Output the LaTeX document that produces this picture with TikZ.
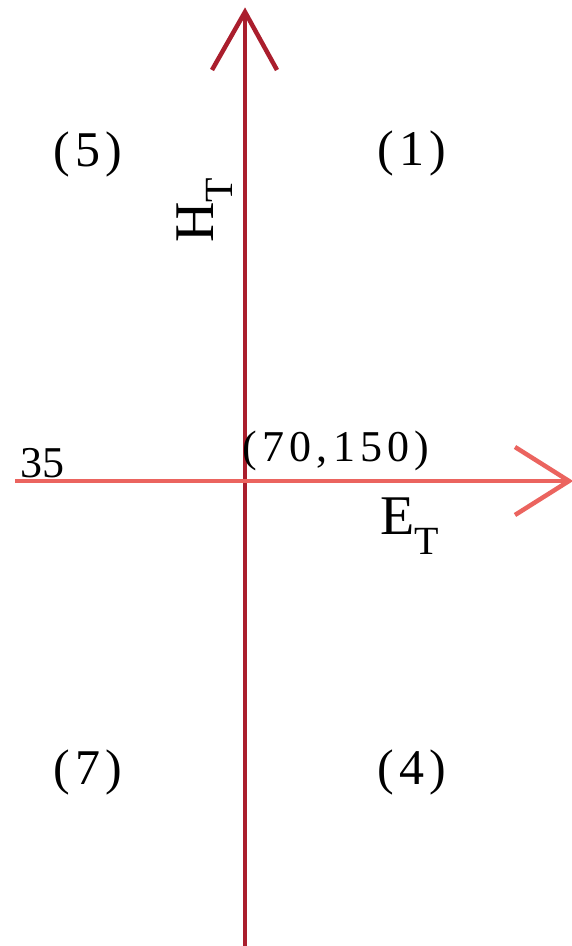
\documentclass[tikz,border=0pt]{standalone}
\usepackage{fontspec}
\setmainfont{Liberation Serif}
\begin{document}
\begin{tikzpicture}[x=1pt,y=1pt,
  vaxis/.style={draw={rgb,255:red,170;green,30;blue,45}, line width=4.5pt},
  haxis/.style={draw={rgb,255:red,235;green,100;blue,95}, line width=4.5pt},
  quad/.style={inner sep=0pt, font=\fontsize{50}{54}\selectfont\addfontfeatures{LetterSpace=10}},
  lbl/.style={inner sep=0pt, font=\fontsize{44}{48}\selectfont}]
\useasboundingbox (0,0) rectangle (572,946);
% vertical axis
\coordinate (vb) at (245,0);
\coordinate (vt) at (245,934);
\coordinate (vl) at (212,876);
\coordinate (vr) at (277,876);
\draw[vaxis] (vb) -- (vt);
\draw[vaxis, line join=miter] (vl) -- (vt) -- (vr);
% horizontal axis
\coordinate (hl) at (15,465);
\coordinate (hr) at (569,465);
\coordinate (hu) at (515,499);
\coordinate (hd) at (515,431);
\draw[haxis] (hl) -- (hr);
\draw[haxis, line join=miter] (hu) -- (hr) -- (hd);
% labels
\node[quad] (q5) at (88,792) {(5)};
\node[quad] (q1) at (412,793) {(1)};
\node[quad] (q7) at (88,174) {(7)};
\node[quad] (q4) at (412,174) {(4)};
\node[lbl] (n35) at (42,483) {35};
\node[lbl, font=\fontsize{44}{48}\selectfont\addfontfeatures{LetterSpace=12}] (org) at (336,495) {(70,150)};
\node[inner sep=0pt, anchor=base west] (et) at (380,411) {\fontsize{56}{60}\selectfont E\raisebox{-0.35em}{\fontsize{40}{44}\selectfont T}};
\node[inner sep=0pt, anchor=base west, rotate=90] (ht) at (213,703) {\fontsize{56}{60}\selectfont H\raisebox{-0.35em}{\fontsize{40}{44}\selectfont T}};
\end{tikzpicture}
\end{document}
